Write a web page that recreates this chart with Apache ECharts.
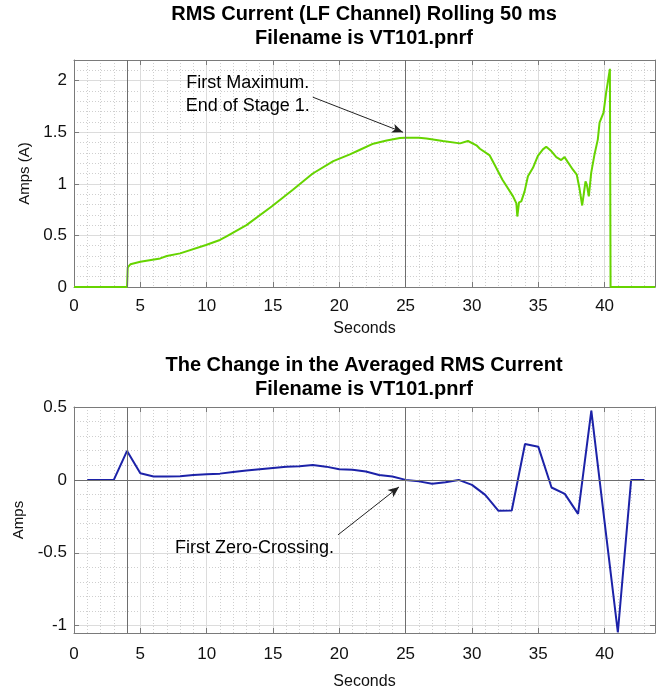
<!DOCTYPE html>
<html>
<head>
<meta charset="utf-8">
<script src="https://cdn.jsdelivr.net/npm/echarts@6/dist/echarts.min.js"></script>
<style>
html,body{margin:0;padding:0;background:#fff;}
#chart{width:662px;height:691px;}
</style>
</head>
<body>
<div id="chart"></div>
<script>
// ---- Top chart: RMS current (rolling 50 ms) ----
var topSeconds = [0, 4.0, 4.05, 4.25, 5.0, 6.5, 7.0, 8.0, 9.95, 11.0, 11.5, 13.0, 14.9, 16.5, 18.0, 19.55, 20.8, 21.56, 22.56, 23.57, 24.57, 25.0, 26.0, 26.57, 27.8, 29.1, 29.7, 30.34, 30.6, 31.34, 31.7, 32.3, 33.1, 33.35, 33.42, 33.55, 33.72, 33.97, 34.22, 34.6, 34.97, 35.35, 35.6, 35.98, 36.36, 36.73, 36.98, 37.23, 37.6, 37.9, 38.1, 38.31, 38.44, 38.56, 38.66, 38.81, 38.99, 39.24, 39.49, 39.62, 39.92, 40.12, 40.4, 40.45, 43.8];
var topAmps = [0, 0, 0.19, 0.22, 0.244, 0.277, 0.30, 0.326, 0.407, 0.456, 0.49, 0.60, 0.78, 0.943, 1.10, 1.22, 1.285, 1.33, 1.389, 1.42, 1.444, 1.447, 1.447, 1.44, 1.415, 1.392, 1.415, 1.373, 1.34, 1.275, 1.187, 1.04, 0.878, 0.81, 0.683, 0.82, 0.83, 0.927, 1.073, 1.155, 1.27, 1.334, 1.36, 1.317, 1.259, 1.23, 1.259, 1.21, 1.139, 1.09, 0.96, 0.79, 0.911, 1.024, 0.992, 0.878, 1.106, 1.285, 1.431, 1.594, 1.69, 1.887, 2.114, 0, 0];

// ---- Bottom chart: change in averaged RMS current ----
var bottomSeconds = [1, 2, 3, 4, 5, 6, 7, 8, 9, 10, 11, 12, 13, 14, 15, 16, 17, 18, 19, 20, 21, 22, 23, 24, 25, 26, 27, 28, 29, 30, 31, 32, 33, 34, 35, 36, 37, 38, 39, 40, 41, 42, 43];
var bottomAmps = [0, 0, 0, 0.199, 0.046, 0.023, 0.023, 0.025, 0.034, 0.039, 0.043, 0.055, 0.064, 0.073, 0.082, 0.091, 0.094, 0.103, 0.091, 0.073, 0.07, 0.057, 0.034, 0.023, 0, -0.01, -0.027, -0.016, 0, -0.034, -0.103, -0.212, -0.21, 0.246, 0.228, -0.052, -0.096, -0.233, 0.475, -0.29, -1.045, 0, 0];

// ---- axes / text ----
var xMin = 0, xMax = 43.8, xStep = 5;
var topYMin = 0, topYMax = 2.2, topYStep = 0.5;
var botYMin = -1.05, botYMax = 0.5, botYStep = 0.5;
var markerSeconds = [4, 25];
var topTitle = ['RMS Current (LF Channel) Rolling 50 ms', 'Filename is VT101.pnrf'];
var botTitle = ['The Change in the Averaged RMS Current', 'Filename is VT101.pnrf'];
var topNote = ['First Maximum.', 'End of Stage 1.'];
var botNote = 'First Zero-Crossing.';
var topArrow = [[18.0, 1.84], [24.8, 1.50]];
var botArrow = [[19.9, -0.377], [24.5, -0.048]];

var FONT = "'Liberation Sans', Arial, Helvetica, sans-serif";
var AX = '#7a7a7a';

function pairs(xs, ys) { return xs.map(function (x, i) { return [x, ys[i]]; }); }

function xAxisCfg(gi, pos, withLabels, margin, nameGap) {
  return {
    type: 'value', gridIndex: gi, position: pos, min: xMin, max: xMax, interval: xStep,
    name: withLabels ? 'Seconds' : '', nameLocation: 'middle', nameGap: nameGap,
    nameTextStyle: { fontFamily: FONT, fontSize: 16, color: '#111' },
    axisLine: { show: true, onZero: false, lineStyle: { color: AX, width: 1 } },
    axisTick: { show: true, inside: true, length: 5, lineStyle: { color: AX } },
    minorTick: { show: false, splitNumber: 5 },
    axisLabel: { show: withLabels, fontFamily: FONT, fontSize: 17, color: '#111', margin: margin, showMaxLabel: false, showMinLabel: true },
    splitLine: { show: withLabels, lineStyle: { color: '#dcdcdc', width: 1 } },
    minorSplitLine: { show: withLabels, lineStyle: { color: '#cfcfcf', type: [1, 2], width: 1 } }
  };
}
function yAxisCfg(gi, pos, withLabels, mn, mx, step, name, useInterval) {
  var a = {
    type: 'value', gridIndex: gi, position: pos, min: mn, max: mx,
    name: withLabels ? name : '', nameLocation: 'middle', nameGap: 41,
    nameTextStyle: { fontFamily: FONT, fontSize: 15, color: '#111' },
    axisLine: { show: true, onZero: false, lineStyle: { color: AX, width: 1 } },
    axisTick: { show: true, inside: true, length: 5, lineStyle: { color: AX } },
    minorTick: { show: false, splitNumber: 5 },
    axisLabel: { show: withLabels, fontFamily: FONT, fontSize: 17, color: '#111', margin: 7, showMaxLabel: useInterval ? false : true, showMinLabel: useInterval ? true : false },
    splitLine: { show: withLabels, lineStyle: { color: '#dcdcdc', width: 1 } },
    minorSplitLine: { show: withLabels, lineStyle: { color: '#cfcfcf', type: [1, 2], width: 1 } }
  };
  if (useInterval) { a.interval = step; } else { a.minInterval = step; a.maxInterval = step; a.splitNumber = 3; }
  return a;
}

var refLineStyle = { color: '#6e6e6e', width: 1, type: 'solid' };
function markers(extra) {
  var d = markerSeconds.map(function (s) { return { xAxis: s, lineStyle: refLineStyle }; });
  return d.concat(extra);
}
function arrow(a) {
  return [
    { coord: a[0], symbol: 'none', lineStyle: { color: '#222', width: 1, type: 'solid' } },
    { coord: a[1], symbol: 'arrow', symbolSize: [7, 11] }
  ];
}

var graphics = [];
function txt(x, y, s, size, bold) {
  graphics.push({ type: 'text', x: x, y: y, silent: true,
    style: { text: s, fontFamily: FONT, fontSize: size, fontWeight: bold ? 'bold' : 'normal', fill: '#000', align: 'center', verticalAlign: 'middle' } });
}
txt(364, 14, topTitle[0], 20, true);
txt(364, 38, topTitle[1], 20, true);
txt(364, 365, botTitle[0], 20, true);
txt(364, 389, botTitle[1], 20, true);

var chart = echarts.init(document.getElementById('chart'), null, { renderer: 'canvas' });
var option = {
  animation: false,
  backgroundColor: '#fff',
  grid: [
    { left: 74, top: 60, width: 581, height: 227, containLabel: false, outerBoundsMode: 'none' },
    { left: 74, top: 407, width: 581, height: 226, containLabel: false, outerBoundsMode: 'none' }
  ],
  xAxis: [
    xAxisCfg(0, 'bottom', true, 11, 34),
    xAxisCfg(0, 'top', false, 8, 30),
    xAxisCfg(1, 'bottom', true, 13, 41),
    xAxisCfg(1, 'top', false, 8, 30)
  ],
  yAxis: [
    yAxisCfg(0, 'left', true, topYMin, topYMax, topYStep, 'Amps (A)', true),
    yAxisCfg(0, 'right', false, topYMin, topYMax, topYStep, '', true),
    yAxisCfg(1, 'left', true, botYMin, botYMax, botYStep, 'Amps', false),
    yAxisCfg(1, 'right', false, botYMin, botYMax, botYStep, '', false)
  ],
  graphic: graphics,
  series: [
    {
      type: 'line', xAxisIndex: 0, yAxisIndex: 0, data: pairs(topSeconds, topAmps),
      showSymbol: false, symbol: 'none', lineStyle: { color: '#66d400', width: 2 }, z: 3,
      markLine: { silent: true, symbol: 'none', label: { show: false }, animation: false,
        data: markers([arrow(topArrow)]) },
      markPoint: { silent: true, symbol: 'circle', symbolSize: 0,
        label: { show: true, fontFamily: FONT, fontSize: 18, color: '#000', lineHeight: 23, align: 'center', verticalAlign: 'middle', formatter: topNote.join('\n'), position: 'inside' },
        data: [{ coord: [13.1, 1.87] }] }
    },
    {
      type: 'line', xAxisIndex: 2, yAxisIndex: 2, data: pairs(bottomSeconds, bottomAmps),
      showSymbol: false, symbol: 'none', lineStyle: { color: '#1c22a8', width: 2 }, z: 3,
      markLine: { silent: true, symbol: 'none', label: { show: false }, animation: false,
        data: markers([{ yAxis: 0, lineStyle: refLineStyle }, arrow(botArrow)]) },
      markPoint: { silent: true, symbol: 'circle', symbolSize: 0,
        label: { show: true, fontFamily: FONT, fontSize: 18, color: '#000', align: 'center', verticalAlign: 'middle', formatter: botNote, position: 'inside' },
        data: [{ coord: [13.6, -0.466] }] }
    }
  ]
};
chart.setOption(option);
</script>
</body>
</html>
